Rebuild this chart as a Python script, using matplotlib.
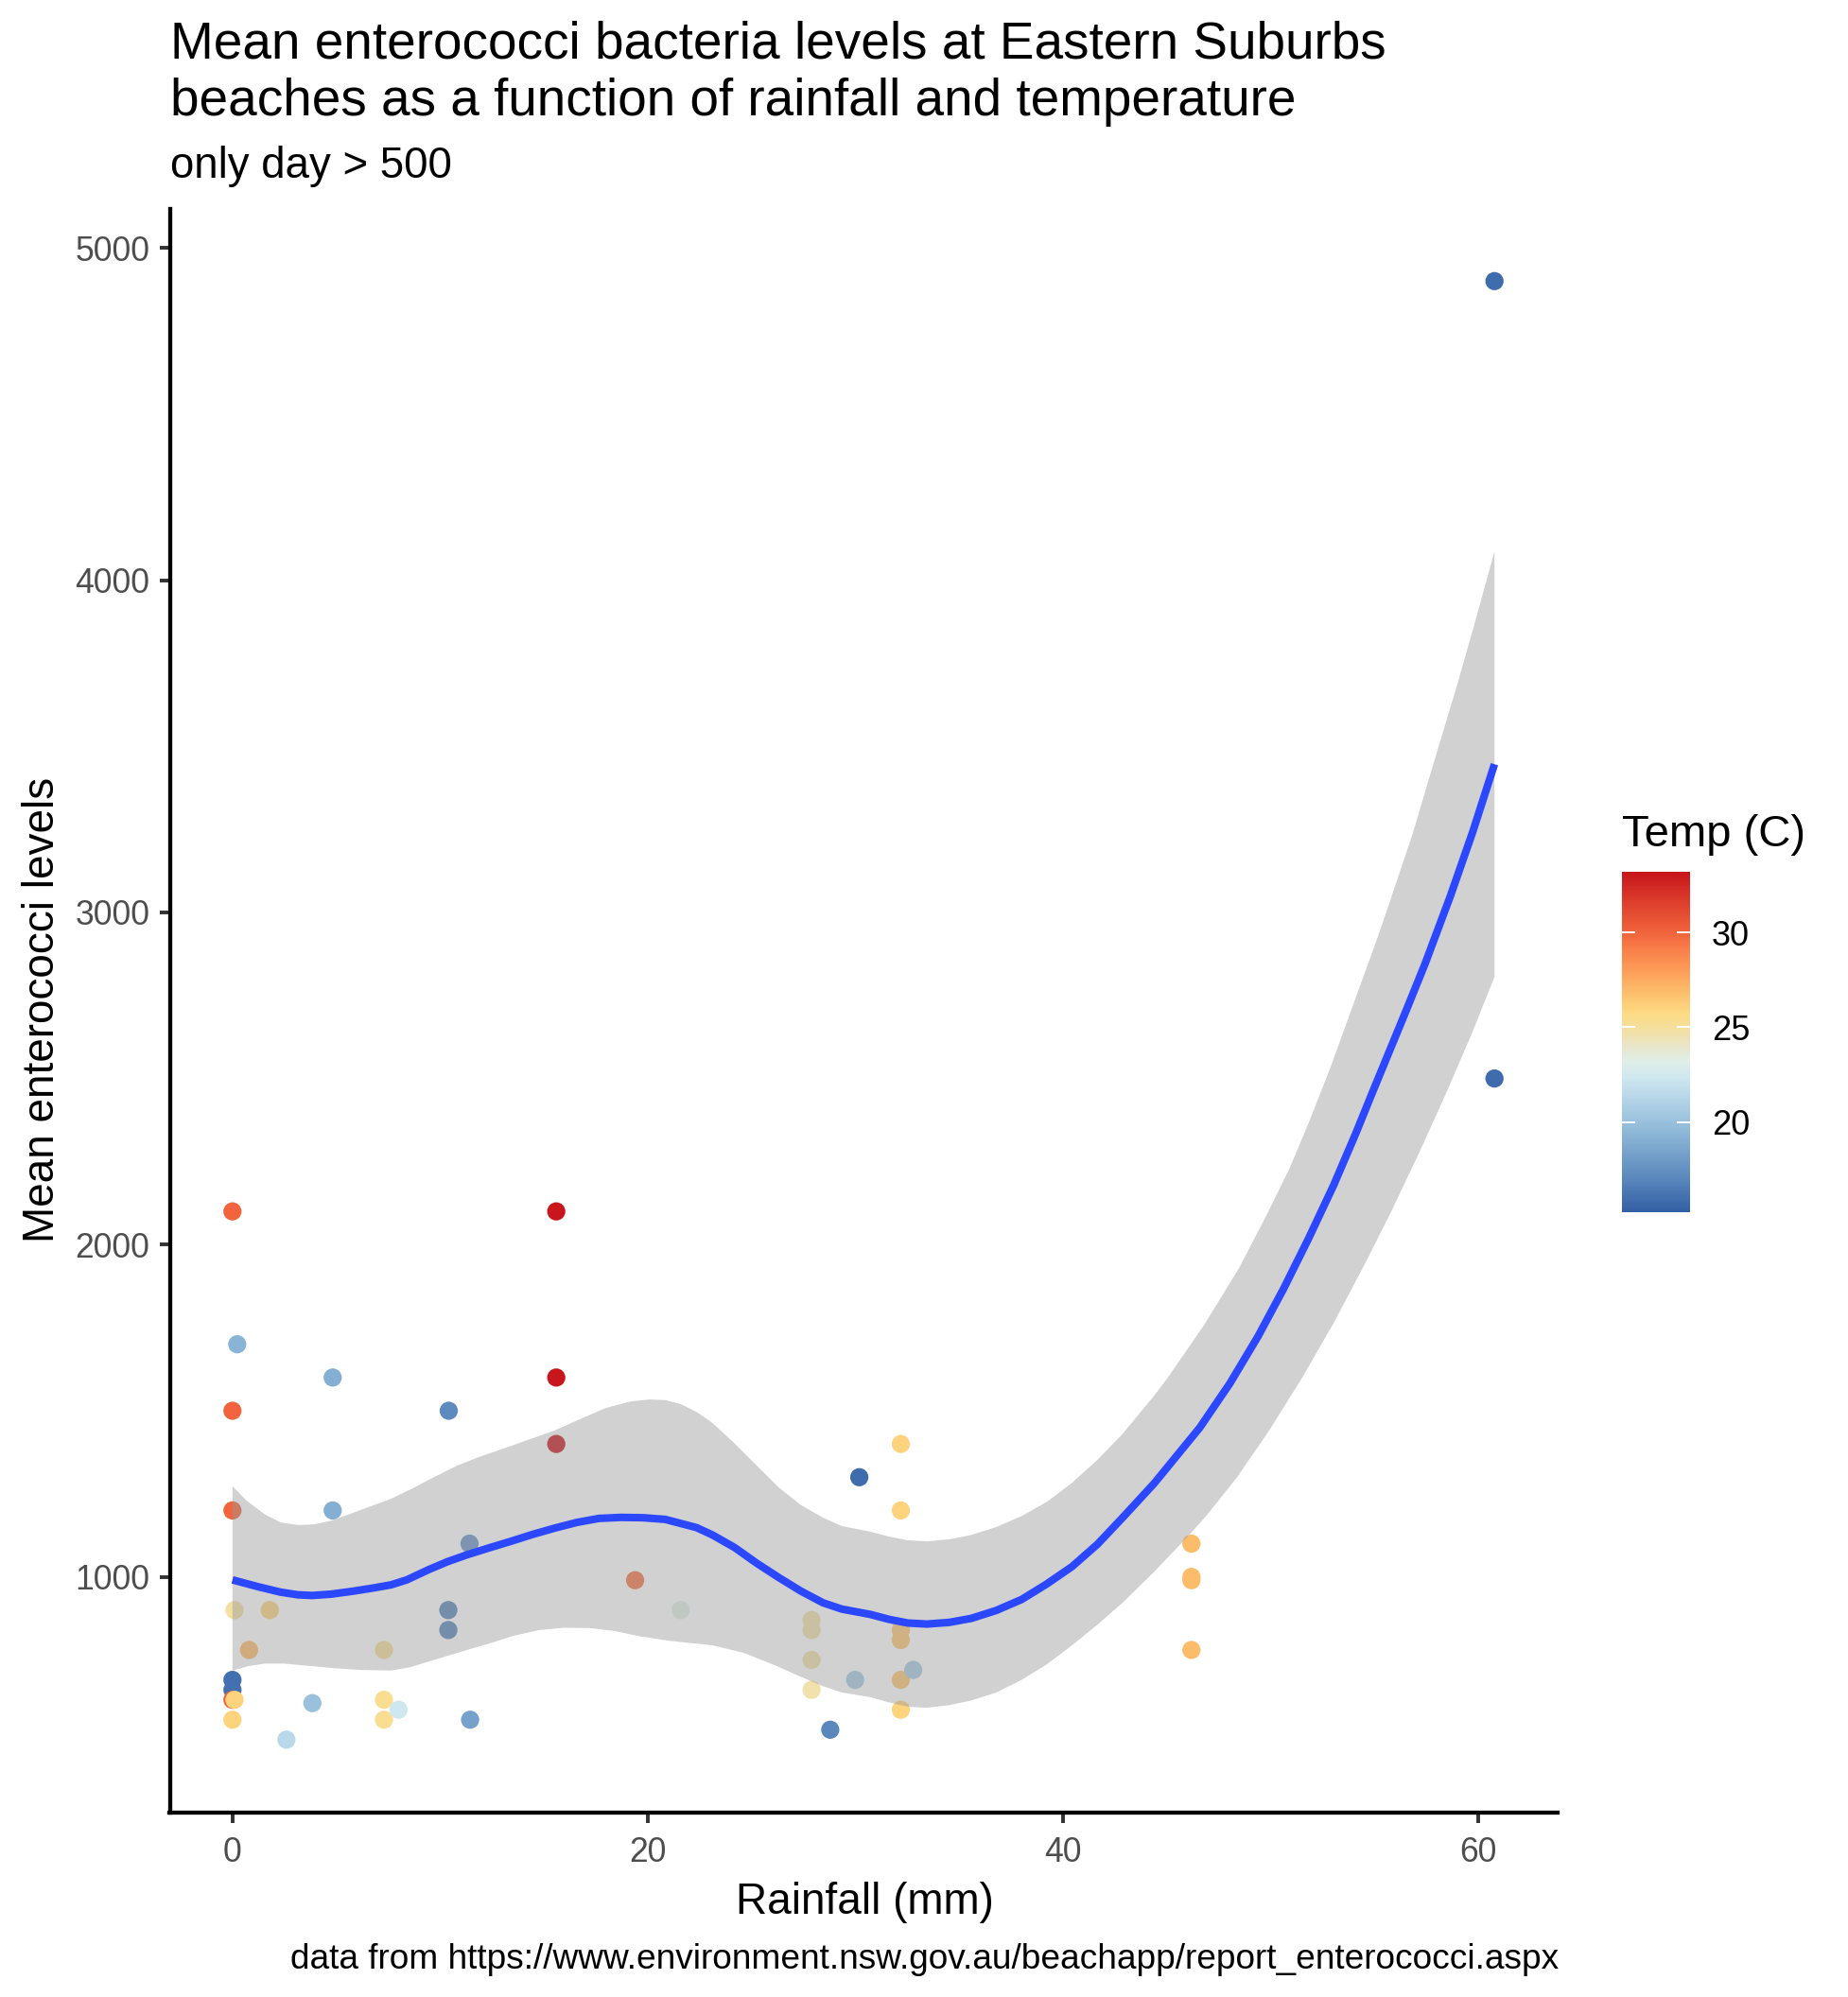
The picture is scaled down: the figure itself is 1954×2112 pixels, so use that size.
import numpy as np
import matplotlib
matplotlib.use("Agg")
import matplotlib.pyplot as plt
from matplotlib.colors import LinearSegmentedColormap, Normalize

plt.rcParams['font.family'] = ['Liberation Sans', 'DejaVu Sans']

# ---- data ----
rain = [0.0, 0.0, 0.0, 0.23, 4.83, 4.83, 10.42, 11.42, 15.6, 15.6, 15.6, 19.4, 21.6,
        0.1, 1.8, 0.8, 7.3, 10.4, 10.4,
        0.0, 0.0, 0.0, 0.1, 0.0, 3.85, 2.6, 7.3, 7.3, 8.0, 11.45,
        32.2, 32.2, 30.2, 27.9, 27.9, 27.9, 27.9,
        32.2, 32.2, 32.2, 32.2, 32.8, 30.0, 28.8,
        46.2, 46.2, 46.2, 46.2, 60.8, 60.8]
level = [2100, 1500, 1200, 1700, 1600, 1200, 1500, 1100, 2100, 1600, 1400, 990, 900,
         900, 900, 780, 780, 900, 840,
         660, 690, 630, 630, 570, 620, 510, 630, 570, 600, 570,
         1400, 1200, 1300, 870, 840, 750, 660,
         840, 810, 690, 600, 720, 690, 540,
         1100, 1000, 990, 780, 4900, 2500]
temp = [30.0, 30.0, 30.0, 19.3, 19.0, 19.0, 17.2, 17.6, 33.2, 33.2, 33.2, 29.6, 23.2,
        24.8, 26.0, 27.0, 25.2, 16.8, 16.8,
        16.0, 16.0, 30.0, 26.0, 26.0, 20.0, 21.4, 25.3, 25.3, 22.4, 18.3,
        26.0, 26.0, 15.8, 24.7, 24.7, 24.7, 24.7,
        26.6, 26.6, 26.6, 26.0, 20.5, 20.5, 17.0,
        26.9, 26.9, 26.9, 26.9, 15.8, 15.8]

fit_x = [0.0, 1.26, 2.32, 3.16, 3.84, 4.75, 5.82, 6.73, 7.64, 8.4, 9.46, 10.37, 11.28, 12.35,
         13.41, 14.47, 15.54, 16.6, 17.66, 18.73, 19.79, 20.85, 21.77, 22.37, 23.13, 24.2,
         25.26, 26.32, 27.39, 28.45, 29.36, 30.73, 31.64, 32.55, 33.46, 34.53, 35.59, 36.8,
         38.02, 39.24, 40.45, 41.67, 42.88, 44.4, 46.6, 48.05, 49.41, 50.63, 51.84, 53.06,
         54.12, 54.88, 55.79, 56.6, 57.46, 58.68, 59.74, 60.8]
fit_y = [991, 970, 954, 946, 944, 948, 957, 966, 976, 991, 1022, 1046, 1066, 1087,
         1107, 1128, 1147, 1164, 1176, 1179, 1178, 1173, 1158, 1148, 1126, 1088,
         1041, 998, 957, 922, 903, 887, 872, 861, 858, 863, 875, 899,
         932, 979, 1031, 1098, 1178, 1281, 1449, 1582, 1724, 1866, 2018, 2180,
         2335, 2452, 2590, 2713, 2846, 3050, 3240, 3446]

upper_x = [0.0, 0.65, 1.56, 2.32, 3.16, 3.92, 4.75, 5.82, 6.73, 7.64, 8.7, 9.77, 10.83, 11.89,
           13.1, 14.32, 15.54, 16.75, 17.97, 19.18, 20.1, 20.85, 21.6, 22.37, 23.13, 24.2,
           25.26, 26.32, 27.39, 28.45, 29.36, 30.73, 31.64, 32.55, 33.46, 34.53, 35.59, 36.8,
           38.02, 39.24, 40.45, 41.67, 42.88, 44.4, 45.01, 46.83, 48.5, 49.87, 50.93, 51.84, 52.91,
           54.2, 55.03, 55.64, 56.85, 57.92, 58.98, 59.89, 60.8]
upper_y = [1273, 1231, 1188, 1164, 1156, 1158, 1169, 1193, 1214, 1235, 1267, 1302, 1335, 1361,
           1387, 1414, 1441, 1475, 1508, 1528, 1534, 1532, 1520, 1496, 1463, 1401,
           1335, 1269, 1216, 1178, 1153, 1136, 1121, 1110, 1107, 1113, 1126, 1150,
           1183, 1226, 1283, 1352, 1430, 1545, 1595, 1760, 1930, 2095, 2230, 2365, 2535,
           2758, 2900, 3010, 3235, 3460, 3680, 3880, 4086]

lower_x = [0.0, 0.8, 1.56, 2.47, 3.54, 4.75, 6.12, 7.64, 8.55, 9.77, 11.13, 12.35, 13.56, 14.78,
           15.99, 17.2, 18.42, 19.64, 21.0, 22.52, 23.13, 24.65, 26.17, 27.39, 28.45, 29.36,
           30.73, 31.64, 32.55, 33.46, 34.53, 35.59, 36.8, 38.02, 39.24, 40.45, 41.67, 42.88,
           44.4, 46.0, 47.0, 48.4, 49.94, 51.54, 53.06, 54.58, 55.79, 57.16, 58.5, 59.74, 60.8]
lower_y = [718, 732, 739, 739, 733, 726, 720, 718, 728, 751, 777, 799, 823, 840,
           847, 846, 837, 821, 808, 798, 794, 771, 733, 699, 671, 652,
           638, 622, 609, 606, 614, 628, 652, 690, 737, 794, 856, 922,
           1015, 1120, 1190, 1300, 1440, 1600, 1765, 1945, 2095, 2275, 2460, 2640, 2806]

temp_stops = [15.25, 17.0, 19.5, 21.2, 22.35, 23.2, 24.0, 25.0, 25.7, 26.5, 27.85, 29.2, 30.0, 31.5, 33.2]
temp_colors = ['#3361A5', '#5B88BD', '#8FB9D8', '#B5D5E8', '#CFE8F0', '#E0EFE9', '#E9E6CA', '#F5DF9C',
               '#FDDC85', '#FDC872', '#FEA25A', '#F97D4A', '#F2653D', '#E0432E', '#C8161C']
x_ticks = [0, 20, 40, 60]
y_ticks = [1000, 2000, 3000, 4000, 5000]
legend_ticks = [20, 25, 30]

# ---- layout ----
W, H = 1954, 2112
DPI = 200
TICK = '#333333'
LABEL = '#4D4D4D'


def box(l, t, r, b):
    return [l / W, 1 - b / H, (r - l) / W, (b - t) / H]


fig = plt.figure(figsize=(W / DPI, H / DPI), dpi=DPI, facecolor='white')
ax = fig.add_axes(box(179.5, 220.7, 1646.7, 1917.3))

lo, hi = temp_stops[0], temp_stops[-1]
cmap = LinearSegmentedColormap.from_list(
    'temp', [((s - lo) / (hi - lo), c) for s, c in zip(temp_stops, temp_colors)], N=256)
norm = Normalize(lo, hi)

ax.scatter(rain, level, c=temp, cmap=cmap, norm=norm, s=48, linewidths=0, zorder=2, clip_on=False)
ax.fill(list(upper_x) + list(lower_x)[::-1], list(upper_y) + list(lower_y)[::-1],
        facecolor='#999999', alpha=0.45, edgecolor='none', zorder=3)
ax.plot(fit_x, fit_y, color='#2B47FF', lw=2.9, solid_capstyle='butt', solid_joinstyle='round', zorder=4)

ax.set_xlim(-3.02, 63.83)
ax.set_ylim(289.6, 5118)
ax.set_xticks(x_ticks)
ax.set_yticks(y_ticks)
ax.spines['top'].set_visible(False)
ax.spines['right'].set_visible(False)
for s in ('left', 'bottom'):
    ax.spines[s].set_linewidth(1.55)
    ax.spines[s].set_color('black')
ax.tick_params(axis='y', length=4.0, width=1.4, color=TICK, labelcolor=LABEL, labelsize=12.8, pad=3.6)
ax.tick_params(axis='x', length=4.0, width=1.4, color=TICK, labelcolor=LABEL, labelsize=12.8, pad=5.0)

fig.text(914 / W, 1 - 2024 / H, 'Rainfall (mm)', fontsize=16.5, ha='center', va='baseline', color='black')
fig.text(45 / W, 1 - 1068 / H, 'Mean enterococci levels', fontsize=16.5, rotation=90,
         ha='center', va='center', color='black')

fig.text(180 / W, 1 - 61.7 / H, 'Mean enterococci bacteria levels at Eastern Suburbs',
         fontsize=19.75, ha='left', va='baseline')
fig.text(180 / W, 1 - 121.7 / H, 'beaches as a function of rainfall and temperature',
         fontsize=19.75, ha='left', va='baseline')
fig.text(180 / W, 1 - 187.7 / H, 'only day > 500', fontsize=16.45, ha='left', va='baseline')
fig.text(1648 / W, 1 - 2082 / H,
         'data from https://www.environment.nsw.gov.au/beachapp/report_enterococci.aspx',
         fontsize=13.33, ha='right', va='baseline')

# legend
fig.text(1715 / W, 1 - 895 / H, 'Temp (C)', fontsize=17, ha='left', va='baseline')
cax = fig.add_axes(box(1715, 922, 1787, 1282))
grad = np.linspace(lo, hi, 300).reshape(-1, 1)
cax.imshow(grad, origin='lower', aspect='auto', cmap=cmap, norm=norm, extent=(0, 1, lo, hi))
for t in legend_ticks:
    cax.plot([0, 0.2], [t, t], color='white', lw=0.7, solid_capstyle='butt')
    cax.plot([0.8, 1], [t, t], color='white', lw=0.7, solid_capstyle='butt')
cax.set_xlim(0, 1)
cax.set_ylim(lo, hi)
cax.set_xticks([])
cax.yaxis.tick_right()
cax.set_yticks(legend_ticks)
cax.tick_params(axis='y', length=0, labelsize=13, pad=8.2, labelcolor='black')
for s in cax.spines.values():
    s.set_visible(False)

fig.savefig('out.png', dpi=DPI, facecolor='white')
